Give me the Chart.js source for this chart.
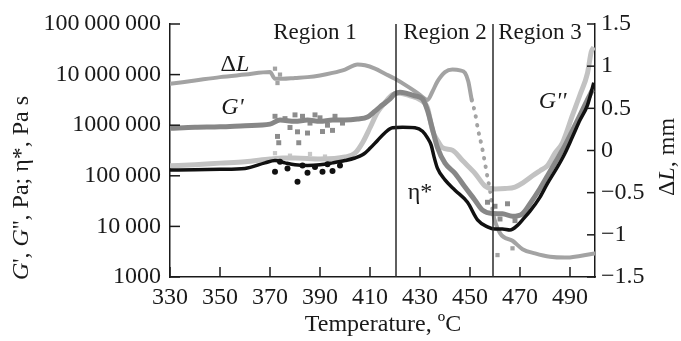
<!DOCTYPE html>
<html>
<head>
<meta charset="utf-8">
<script src="https://cdn.jsdelivr.net/npm/chart.js@4"></script>
<style>
  html, body { margin: 0; padding: 0; background: #fff; }
  #wrap { width: 681px; height: 341px; }
</style>
</head>
<body>
<div id="wrap"><canvas id="myChart" width="681" height="341"></canvas></div>
<script>
// axis ticks
const xTicks = [330, 350, 370, 390, 410, 430, 450, 470, 490];
const yTickValues = [1000, 10000, 100000, 1000000, 10000000, 100000000];
const yTickLabels = ['1000', '10\u2009000', '100\u2009000', '1000\u2009000', '10\u2009000\u2009000', '100\u2009000\u2009000'];
const regionBounds = [420.4, 459.2];
const regionNames = ['Region 1', 'Region 2', 'Region 3'];

// η*, Pa s
const tempEta = [330, 340, 350, 360, 368, 372, 376, 380, 385, 390, 395, 400, 404, 407, 410, 413, 416, 419, 423, 428, 431, 433, 434.5, 435.5, 437, 440, 444, 449, 453, 457, 460, 463, 466, 469, 471, 474, 478, 481, 485, 488, 491, 494, 497, 499.5];
const etaValues = [1.3e5, 1.32e5, 1.35e5, 1.4e5, 1.8e5, 2.0e5, 1.8e5, 1.65e5, 1.6e5, 1.65e5, 1.8e5, 2.0e5, 2.25e5, 2.6e5, 3.5e5, 5e5, 7.1e5, 8.9e5, 9.1e5, 8.9e5, 7.6e5, 5.6e5, 4e5, 2.5e5, 1.4e5, 8.3e4, 5.2e4, 3e4, 1.35e4, 9.8e3, 8.9e3, 8.9e3, 8.5e3, 1.05e4, 1.35e4, 2e4, 3.8e4, 7.1e4, 1.5e5, 2.8e5, 5.9e5, 1.26e6, 2.5e6, 6.9e6];
const etaScatterT = [372, 374, 377, 381, 383, 385, 388, 391, 393, 395, 398];
const etaScatter = [1.2e5, 1.9e5, 1.4e5, 7.6e4, 1.6e5, 1.15e5, 1.5e5, 1.2e5, 1.7e5, 1.25e5, 1.6e5];

// G', Pa
const tempG1 = [330, 340, 350, 360, 370, 374, 380, 385, 390, 395, 400, 405, 409, 412, 414, 416, 418, 420, 422, 425, 428, 431, 433, 434.8, 437, 440, 444, 448, 452, 455, 459, 463, 467, 471, 474, 478, 481, 485, 488, 491, 494, 497, 499];
const g1Values = [8.7e5, 9.1e5, 9.3e5, 9.8e5, 1.05e6, 1.26e6, 1.2e6, 1.26e6, 1.2e6, 1.26e6, 1.26e6, 1.32e6, 1.45e6, 1.9e6, 2.3e6, 2.75e6, 3.3e6, 4.2e6, 4.5e6, 4.2e6, 3.8e6, 3.3e6, 1.95e6, 9.1e5, 3.6e5, 1.78e5, 1.12e5, 6e4, 3.3e4, 2.1e4, 1.8e4, 1.78e4, 1.58e4, 1.78e4, 2.8e4, 5.6e4, 1e5, 2.2e5, 4e5, 7.9e5, 1.58e6, 3.2e6, 5e6];
const g1ScatterT = [372, 373, 373.5, 376, 378, 380, 381, 381.5, 383, 385, 386, 388, 390, 391, 393, 395, 396, 399, 457, 460, 462, 465, 468];
const g1Scatter = [1.5e6, 6e5, 4.5e5, 1.35e6, 9e5, 1.6e6, 7.4e5, 4.5e5, 1.5e6, 7e5, 1.1e6, 1.6e6, 1.4e6, 7.5e5, 1.0e6, 7.9e5, 1.5e6, 1.1e6, 3e4, 2.5e4, 1.4e4, 2.8e4, 1.3e4];

// G'', Pa
const tempG2 = [330, 340, 350, 360, 370, 375, 380, 390, 400, 404, 407, 410, 413, 416, 419, 422, 426, 430, 433, 435, 437, 439, 443, 447, 452, 456, 460, 464, 468, 471, 475, 478, 481, 484, 487, 491, 494, 497, 498.5, 499.5];
const g2Values = [1.58e5, 1.66e5, 1.78e5, 1.9e5, 2.15e5, 2.25e5, 2.25e5, 2.15e5, 2.35e5, 2.8e5, 4.5e5, 8.9e5, 1.8e6, 2.8e6, 4e6, 4.3e6, 3.8e6, 3.2e6, 2.2e6, 7.9e5, 5e5, 3.6e5, 3.2e5, 2e5, 1.12e5, 6.3e4, 5.5e4, 5.6e4, 6e4, 7.2e4, 1e5, 1.26e5, 1.58e5, 2.8e5, 4.5e5, 1.58e6, 4e6, 1.07e7, 2.8e7, 3.5e7];
const g2ScatterT = [372, 378, 386, 392];
const g2Scatter = [2.8e5, 2.5e5, 2.7e5, 2.4e5];

// ΔL, mm
const tempDL = [330, 340, 350, 360, 370, 372, 375, 380, 385, 390, 395, 400, 405, 408, 412, 416, 420, 425, 430, 433, 435, 437, 440, 443, 446, 448, 449.3, 450.7, 452, 453.2, 454.8, 456, 457.2, 458, 459.2, 462, 467, 471, 476, 482, 488, 494, 500];
const dLValues = [0.79, 0.83, 0.87, 0.9, 0.93, 0.85, 0.85, 0.86, 0.87, 0.89, 0.92, 0.96, 1.02, 1.01, 0.97, 0.91, 0.85, 0.76, 0.66, 0.6, 0.7, 0.82, 0.93, 0.96, 0.95, 0.92, 0.82, 0.6, 0.45, 0.25, 0.04, -0.15, -0.35, -0.47, -0.74, -0.98, -1.07, -1.17, -1.22, -1.26, -1.27, -1.25, -1.22];
const dLScatterT = [372, 373, 374, 461, 467];
const dLScatter = [0.97, 0.8, 0.9, -1.24, -1.16];

const ink = '#1a1a1a';
const serif = "'Liberation Serif', 'DejaVu Serif', serif";

const pts = (xs, ys) => xs.map((t, i) => ({ x: t, y: ys[i] }));

function drawRuns(ctx, runs, x, y, size, angle) {
  ctx.save();
  ctx.translate(x, y);
  ctx.rotate(angle || 0);
  ctx.textBaseline = 'middle';
  ctx.textAlign = 'left';
  ctx.fillStyle = ink;
  let total = 0;
  runs.forEach(r => {
    ctx.font = (r[1] ? 'italic ' : '') + size + 'px ' + serif;
    total += ctx.measureText(r[0]).width;
  });
  let cx = -total / 2;
  runs.forEach(r => {
    ctx.font = (r[1] ? 'italic ' : '') + size + 'px ' + serif;
    ctx.fillText(r[0], cx, 0);
    cx += ctx.measureText(r[0]).width;
  });
  ctx.restore();
}

const decor = {
  id: 'decor',
  afterDraw(chart) {
    const { ctx, chartArea: a } = chart;
    const { x, y, y2 } = chart.scales;
    ctx.save();
    // region borders
    ctx.strokeStyle = '#2a2a2a';
    ctx.lineWidth = 1.5;
    regionBounds.forEach(t => {
      const px = x.getPixelForValue(t);
      ctx.beginPath(); ctx.moveTo(px, a.top); ctx.lineTo(px, a.bottom); ctx.stroke();
    });
    // tick marks pointing inwards
    ctx.strokeStyle = ink;
    ctx.lineWidth = 1.5;
    y.ticks.forEach(t => {
      const py = y.getPixelForValue(t.value);
      ctx.beginPath(); ctx.moveTo(a.left, py); ctx.lineTo(a.left + 10, py); ctx.stroke();
    });
    y2.ticks.forEach(t => {
      const py = y2.getPixelForValue(t.value);
      ctx.beginPath(); ctx.moveTo(a.right, py); ctx.lineTo(a.right - 8, py); ctx.stroke();
    });
    x.ticks.forEach(t => {
      const px = x.getPixelForValue(t.value);
      ctx.beginPath(); ctx.moveTo(px, a.bottom); ctx.lineTo(px, a.bottom - 10); ctx.stroke();
    });
    ctx.restore();

    // region names
    [388, 440, 478].forEach((t, i) => {
      drawRuns(ctx, [[regionNames[i], false]], x.getPixelForValue(t), 33, 23, 0);
    });

    // curve labels
    drawRuns(ctx, [['\u0394', false], ['L', true]], x.getPixelForValue(356), y.getPixelForValue(1.55e7), 24, 0);
    drawRuns(ctx, [["G'", true]], x.getPixelForValue(355), y.getPixelForValue(2.2e6), 24, 0);
    drawRuns(ctx, [["G''", true]], x.getPixelForValue(483), y.getPixelForValue(2.9e6), 24, 0);
    drawRuns(ctx, [['\u03b7*', false]], x.getPixelForValue(430), y.getPixelForValue(4.6e4), 24, 0);

    // axis titles
    drawRuns(ctx, [['G', true], ["', ", false], ['G', true], ["'', Pa; \u03b7*, Pa s", false]], 22, 188, 24, -Math.PI / 2);
    drawRuns(ctx, [['\u0394', false], ['L', true], [', mm', false]], 668, 157, 24, -Math.PI / 2);
    drawRuns(ctx, [['Temperature, \u00baC', false]], 383, 325, 24, 0);
  }
};

const tickFont = { family: serif, size: 24 };

new Chart(document.getElementById('myChart'), {
  type: 'line',
  data: {
    datasets: [
      { label: '\u03b7*', data: pts(tempEta, etaValues), yAxisID: 'y', borderColor: '#111', borderWidth: 3.5, pointRadius: 0, cubicInterpolationMode: 'monotone' },
      { label: '\u03b7* scatter', data: pts(etaScatterT, etaScatter), yAxisID: 'y', showLine: false, pointRadius: 3, backgroundColor: '#111', borderWidth: 0 },
      { label: "G'", data: pts(tempG1, g1Values), yAxisID: 'y', borderColor: '#878787', borderWidth: 5, pointRadius: 0, cubicInterpolationMode: 'monotone' },
      { label: "G' scatter", data: pts(g1ScatterT, g1Scatter), yAxisID: 'y', showLine: false, pointStyle: 'rect', pointRadius: 3.5, backgroundColor: '#8c8c8c', borderWidth: 0 },
      { label: "G''", data: pts(tempG2, g2Values), yAxisID: 'y', borderColor: '#c2c2c2', borderWidth: 5, pointRadius: 0, cubicInterpolationMode: 'monotone' },
      { label: "G'' scatter", data: pts(g2ScatterT, g2Scatter), yAxisID: 'y', showLine: false, pointStyle: 'rect', pointRadius: 3, backgroundColor: '#c8c8c8', borderWidth: 0 },
      {
        label: '\u0394L', data: pts(tempDL, dLValues), yAxisID: 'y2', borderColor: '#a3a3a3', borderWidth: 4, pointRadius: 0,
        borderCapStyle: 'round', cubicInterpolationMode: 'monotone',
        segment: { borderDash: c => (c.p0.parsed.x >= 450.7 && c.p1.parsed.x <= 459.3) ? [0.5, 8] : undefined }
      },
      { label: '\u0394L scatter', data: pts(dLScatterT, dLScatter), yAxisID: 'y2', showLine: false, pointStyle: 'rect', pointRadius: 3, backgroundColor: '#a3a3a3', borderWidth: 0 }
    ]
  },
  options: {
    responsive: false,
    animation: false,
    events: [],
    layout: { padding: { top: 24, left: 0, right: 0, bottom: 0 } },
    plugins: { legend: { display: false }, tooltip: { enabled: false } },
    scales: {
      x: {
        type: 'linear', min: 330, max: 500,
        afterBuildTicks: s => { s.ticks = xTicks.map(v => ({ value: v })); },
        afterFit: s => { s.height = 64; },
        grid: { display: false, drawTicks: false },
        border: { display: true, color: ink, width: 1.5 },
        ticks: { font: tickFont, color: ink, padding: 6, maxRotation: 0, autoSkip: false }
      },
      y: {
        type: 'logarithmic', position: 'left', min: 1000, max: 100000000,
        afterBuildTicks: s => { s.ticks = yTickValues.map(v => ({ value: v })); },
        afterFit: s => { s.width = 170; },
        grid: { display: false, drawTicks: false },
        border: { display: true, color: ink, width: 1.5 },
        ticks: { font: tickFont, color: ink, padding: 9, autoSkip: false, callback: (v, i) => yTickLabels[i] }
      },
      y2: {
        type: 'linear', position: 'right', min: -1.5, max: 1.5,
        afterFit: s => { s.width = 86; },
        grid: { display: false, drawTicks: false },
        border: { display: true, color: ink, width: 1.5 },
        ticks: { font: tickFont, color: ink, padding: 6, stepSize: 0.5, autoSkip: false, callback: v => v < 0 ? '\u2212' + Math.abs(v) : String(v) }
      }
    }
  },
  plugins: [decor]
});
</script>
</body>
</html>
